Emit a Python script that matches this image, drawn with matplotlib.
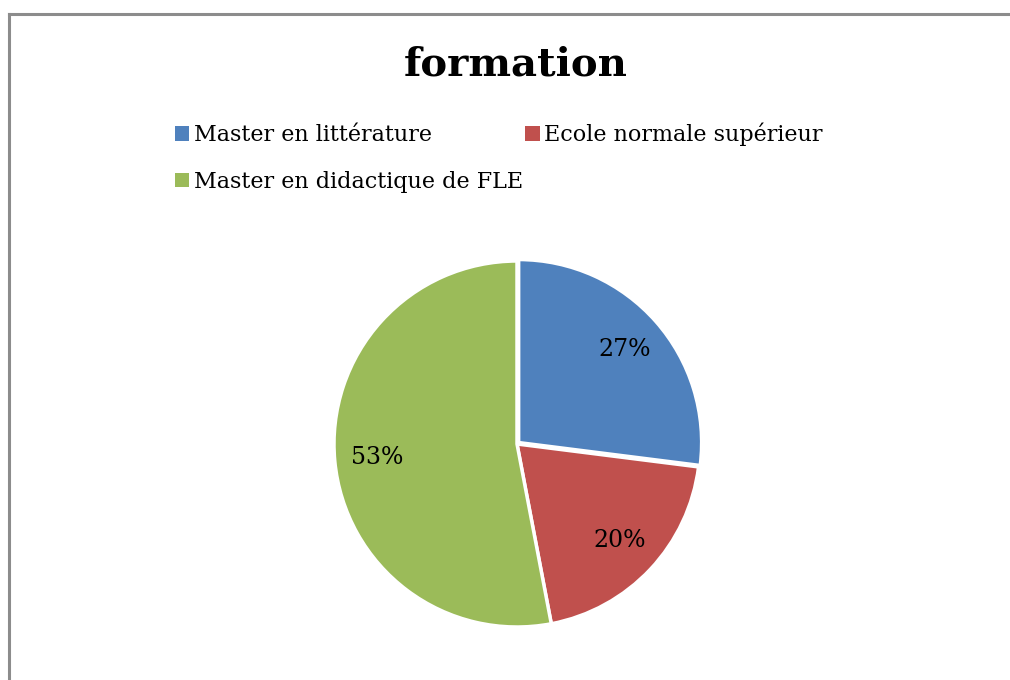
import matplotlib.pyplot as plt
from matplotlib.lines import Line2D
from matplotlib.patches import Patch

# data
labels = ["Master en littérature", "Ecole normale supérieur", "Master en didactique de FLE"]
values = [27, 20, 53]
colors = ["#4F81BD", "#C0504D", "#9BBB59"]

plt.rcParams['font.family'] = ['DejaVu Serif']

W, H = 1010, 680
fig = plt.figure(figsize=(W / 100, H / 100), dpi=100)
fig.patch.set_facecolor("white")

# grey frame (left and top edges visible)
fig.add_artist(Line2D([9 / W, 9 / W], [0, 1 - 14 / H], color="#8c8c8c", lw=2.2,
                      transform=fig.transFigure))
fig.add_artist(Line2D([9 / W, 1], [1 - 14 / H, 1 - 14 / H], color="#8c8c8c", lw=2.2,
                      transform=fig.transFigure))

# pie: center (517, 444), radius 183 px
cx, cy, r = 517, 444, 183
ax = fig.add_axes([(cx - r) / W, (H - cy - r) / H, 2 * r / W, 2 * r / H])
wedges, texts, autotexts = ax.pie(
    values, colors=colors, startangle=90, counterclock=False,
    autopct=lambda p: "%d%%" % round(p), pctdistance=0.77, radius=1,
    explode=[0.012, 0, 0],
    wedgeprops=dict(edgecolor="white", linewidth=2.5),
    textprops=dict(fontsize=17, color="black"))
ax.set_xlim(-1.0, 1.0)
ax.set_ylim(-1.0, 1.0)
ax.set_aspect("equal")
ax.axis("off")
for w in wedges:
    w.set_clip_on(False)

fig.text(516 / W, 1 - 64 / H, "formation", ha="center", va="center",
         fontsize=29, fontweight="bold")

handles = [Patch(facecolor=c, edgecolor="none") for c in colors]
# order so that columns fill like the reference rows
order = [0, 2, 1]
fig.legend([handles[i] for i in order], [labels[i] for i in order],
           ncol=2, loc="upper left", bbox_to_anchor=(166 / W, 1 - 114 / H),
           frameon=False, fontsize=16, handlelength=0.65, handleheight=0.65,
           handletextpad=0.2, columnspacing=0.1, labelspacing=1.1,
           borderaxespad=0)

fig.savefig("out.png", dpi=100)
